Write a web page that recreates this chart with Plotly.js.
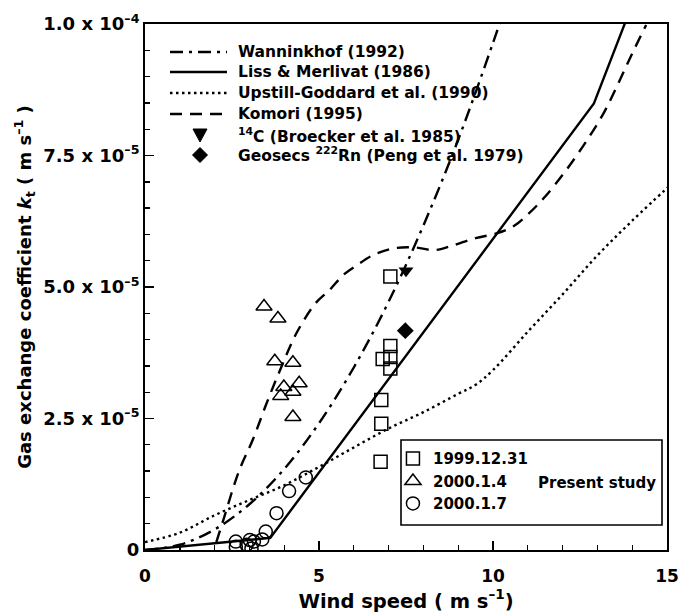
<!DOCTYPE html>
<html>
<head>
<meta charset="utf-8">
<script src="https://cdn.plot.ly/plotly-3.0.1.min.js"></script>
<style>html,body{margin:0;padding:0;background:#fff;}#chart{width:681px;height:615px;}</style>
</head>
<body>
<div id="chart"></div>
<script>
// All gas exchange coefficients in units of 1e-5 m s^-1
// Wanninkhof (1992)
const windWann = [0, 1, 2, 3, 4, 5, 6, 7, 8, 9, 10, 10.2];
const ktWann   = [0, 0.10, 0.39, 0.87, 1.54, 2.41, 3.47, 4.72, 6.17, 7.80, 9.64, 10.03];
// Liss & Merlivat (1986)
const windLM = [0, 3.6, 12.9, 13.9];
const ktLM   = [0, 0.23, 8.49, 10.2];
// Upstill-Goddard et al. (1990)
const windUG = [0, 1, 2, 3, 4, 5, 6, 7, 8, 9, 9.5, 10, 11, 12, 13, 14, 15.2];
const ktUG   = [0.15, 0.33, 0.66, 0.95, 1.23, 1.58, 1.95, 2.31, 2.62, 2.97, 3.14, 3.42, 4.15, 4.86, 5.60, 6.26, 7.0];
// Komori (1995)
const windKomori = [2.05, 2.25, 2.7, 3.1, 3.5, 3.9, 4.35, 4.9, 5.3, 5.7, 6.1, 6.6, 7.2, 7.8, 8.3, 8.8, 9.5, 10.1, 10.6, 11.0, 11.5, 12.1, 12.7, 13.2, 13.6, 14.0, 14.4];
const ktKomori   = [0.15, 0.57, 1.5, 2.1, 2.8, 3.45, 4.12, 4.69, 4.94, 5.23, 5.42, 5.62, 5.74, 5.75, 5.70, 5.78, 5.93, 6.02, 6.16, 6.38, 6.72, 7.22, 7.79, 8.33, 8.87, 9.44, 9.98];
// 14C (Broecker et al. 1985)
const wind14C = [7.5];
const kt14C   = [5.31];
// Geosecs 222Rn (Peng et al. 1979)
const windRn = [7.48];
const ktRn   = [4.17];
// Present study
const wind19991231 = [7.05, 7.05, 7.05, 7.05, 6.83, 6.79, 6.79, 6.77];
const kt19991231   = [5.20, 3.88, 3.67, 3.45, 3.63, 2.85, 2.40, 1.68];
const wind200014 = [3.42, 3.82, 3.73, 4.25, 3.99, 4.43, 4.25, 3.90, 4.25];
const kt200014   = [4.63, 4.40, 3.59, 3.56, 3.10, 3.17, 3.01, 2.93, 2.53];
const wind200017 = [4.62, 4.14, 3.78, 3.47, 3.37, 3.13, 3.01, 3.06, 2.92, 2.61, 2.61];
const kt200017   = [1.38, 1.12, 0.70, 0.35, 0.20, 0.16, 0.19, 0.03, 0.10, 0.06, 0.16];
// Axis ticks
const yTickVals = [0, 2.5, 5, 7.5, 10];
const yTickText = ['0', '2.5 x 10<sup>–5</sup>', '5.0 x 10<sup>–5</sup>', '7.5 x 10<sup>–5</sup>', '1.0 x 10<sup>–4</sup>'];
const xTickVals = [0, 5, 10, 15];
const xTickText = ['0', '5', '10', '15'];
// Legend labels (upper-left key)
const keyLabels = ['Wanninkhof (1992)', 'Liss & Merlivat (1986)', 'Upstill-Goddard et al. (1990)', 'Komori (1995)',
                   '<sup>14</sup>C (Broecker et al. 1985)', 'Geosecs <sup>222</sup>Rn (Peng et al. 1979)'];

const FONT = 'DejaVu Sans, Verdana, sans-serif';
const lw = 2.4;
const DASH_WANN = '13px,6px,3px,6px';
const DASH_UG = '2.5px,3.5px';
const DASH_KOM = '12px,8px';

// pixel -> paper helpers for the hand-drawn key (plot area: x 145..667, y 24..550)
const PL = 145, PW = 522, PB = 550, PH = 526;
const fx = px => (px - PL) / PW;
const fy = py => (PB - py) / PH;

const traces = [
  {x: windWann, y: ktWann, name: keyLabels[0], mode: 'lines', showlegend: false,
   line: {color: '#000', width: lw, dash: DASH_WANN, shape: 'spline'}},
  {x: windLM, y: ktLM, name: keyLabels[1], mode: 'lines', showlegend: false,
   line: {color: '#000', width: lw}},
  {x: windUG, y: ktUG, name: keyLabels[2], mode: 'lines', showlegend: false,
   line: {color: '#000', width: lw, dash: DASH_UG, shape: 'spline'}},
  {x: windKomori, y: ktKomori, name: keyLabels[3], mode: 'lines', showlegend: false,
   line: {color: '#000', width: lw, dash: DASH_KOM, shape: 'spline'}},
  {x: wind14C, y: kt14C, name: keyLabels[4], mode: 'markers', showlegend: false,
   marker: {symbol: 'triangle-down', size: 13, color: '#000'}},
  {x: windRn, y: ktRn, name: keyLabels[5], mode: 'markers', showlegend: false,
   marker: {symbol: 'diamond', size: 13, color: '#000'}},
  {x: wind19991231, y: kt19991231, name: '1999.12.31', mode: 'markers',
   marker: {symbol: 'square-open', size: 13, color: '#000', line: {width: 1.5}}, legend: 'legend2'},
  {x: wind200014, y: kt200014, name: '2000.1.4', mode: 'markers',
   marker: {symbol: 'triangle-up-open', size: 14, color: '#000', line: {width: 1.5}}, legend: 'legend2'},
  {x: wind200017, y: kt200017, name: '2000.1.7', mode: 'markers',
   marker: {symbol: 'circle-open', size: 13, color: '#000', line: {width: 1.5}}, legend: 'legend2'}
];

// Key (upper-left) rows
const rowY = [52, 72, 93, 114, 135, 155];
const keyShapes = [];
const keyDash = [DASH_WANN, 'solid', DASH_UG, DASH_KOM];
for (let i = 0; i < 4; i++) {
  keyShapes.push({type: 'line', xref: 'paper', yref: 'paper',
    x0: fx(170), x1: fx(227), y0: fy(rowY[i]), y1: fy(rowY[i]),
    line: {color: '#000', width: lw, dash: keyDash[i]}});
}
// filled triangle-down and diamond symbols
keyShapes.push({type: 'path', xref: 'paper', yref: 'paper', fillcolor: '#000', line: {color: '#000', width: 1},
  path: `M ${fx(193)} ${fy(rowY[4] - 6)} L ${fx(207)} ${fy(rowY[4] - 6)} L ${fx(200)} ${fy(rowY[4] + 7)} Z`});
keyShapes.push({type: 'path', xref: 'paper', yref: 'paper', fillcolor: '#000', line: {color: '#000', width: 1},
  path: `M ${fx(200)} ${fy(rowY[5] - 7.5)} L ${fx(207.5)} ${fy(rowY[5])} L ${fx(200)} ${fy(rowY[5] + 7.5)} L ${fx(192.5)} ${fy(rowY[5])} Z`});
// Present-study box
keyShapes.push({type: 'rect', xref: 'paper', yref: 'paper', x0: fx(401), x1: fx(662), y0: fy(525), y1: fy(440),
  line: {color: '#000', width: 1.6}, fillcolor: 'rgba(0,0,0,0)'});

const keyAnnotations = keyLabels.map((t, i) => ({
  text: t, xref: 'paper', yref: 'paper', x: fx(236), y: fy(rowY[i]),
  xanchor: 'left', yanchor: 'middle', showarrow: false,
  font: {family: FONT, size: 15.5, weight: 'bold', color: '#000'}
}));
keyAnnotations.push({text: 'Present study', xref: 'paper', yref: 'paper', x: fx(597), y: fy(483),
  xanchor: 'center', yanchor: 'middle', showarrow: false,
  font: {family: FONT, size: 15, weight: 'bold', color: '#000'}});

const layout = {
  width: 681, height: 615,
  margin: {l: 145, r: 14, t: 24, b: 65},
  paper_bgcolor: '#fff', plot_bgcolor: '#fff',
  font: {family: FONT, size: 15, color: '#000', weight: 'bold'},
  showlegend: true,
  xaxis: {
    range: [0, 15], tickvals: xTickVals, ticktext: xTickText,
    ticks: 'inside', ticklen: 9, tickwidth: 1.6, tickcolor: '#000',
    minor: {dtick: 1, ticks: 'inside', ticklen: 5, tickwidth: 1.4, tickcolor: '#000'},
    showline: true, linecolor: '#000', linewidth: 2, mirror: true,
    showgrid: false, zeroline: false, ticklabelstandoff: 10,
    tickfont: {family: FONT, size: 17, weight: 'bold'},
    title: {text: 'Wind speed ( m s<sup>–1</sup>)', font: {family: FONT, size: 19.5, weight: 'bold'}, standoff: 4}
  },
  yaxis: {
    range: [0, 10], tickvals: yTickVals, ticktext: yTickText,
    ticks: 'inside', ticklen: 9, tickwidth: 1.6, tickcolor: '#000',
    minor: {dtick: 0.5, ticks: 'inside', ticklen: 5, tickwidth: 1.4, tickcolor: '#000'},
    showline: true, linecolor: '#000', linewidth: 2, mirror: true,
    showgrid: false, zeroline: false,
    tickfont: {family: FONT, size: 18, weight: 'bold'},
    title: {text: 'Gas exchange coefficient <i>k</i><sub>t</sub> ( m s<sup>–1</sup> )', font: {family: FONT, size: 18, weight: 'bold'}, standoff: 7}
  },
  legend2: {
    x: 0.475, y: 0.205, xanchor: 'left', yanchor: 'top',
    bgcolor: 'rgba(0,0,0,0)', borderwidth: 0,
    font: {family: FONT, size: 15, weight: 'bold'}
  },
  shapes: keyShapes,
  annotations: keyAnnotations
};

Plotly.newPlot('chart', traces, layout, {displayModeBar: false, staticPlot: true});
</script>
</body>
</html>
